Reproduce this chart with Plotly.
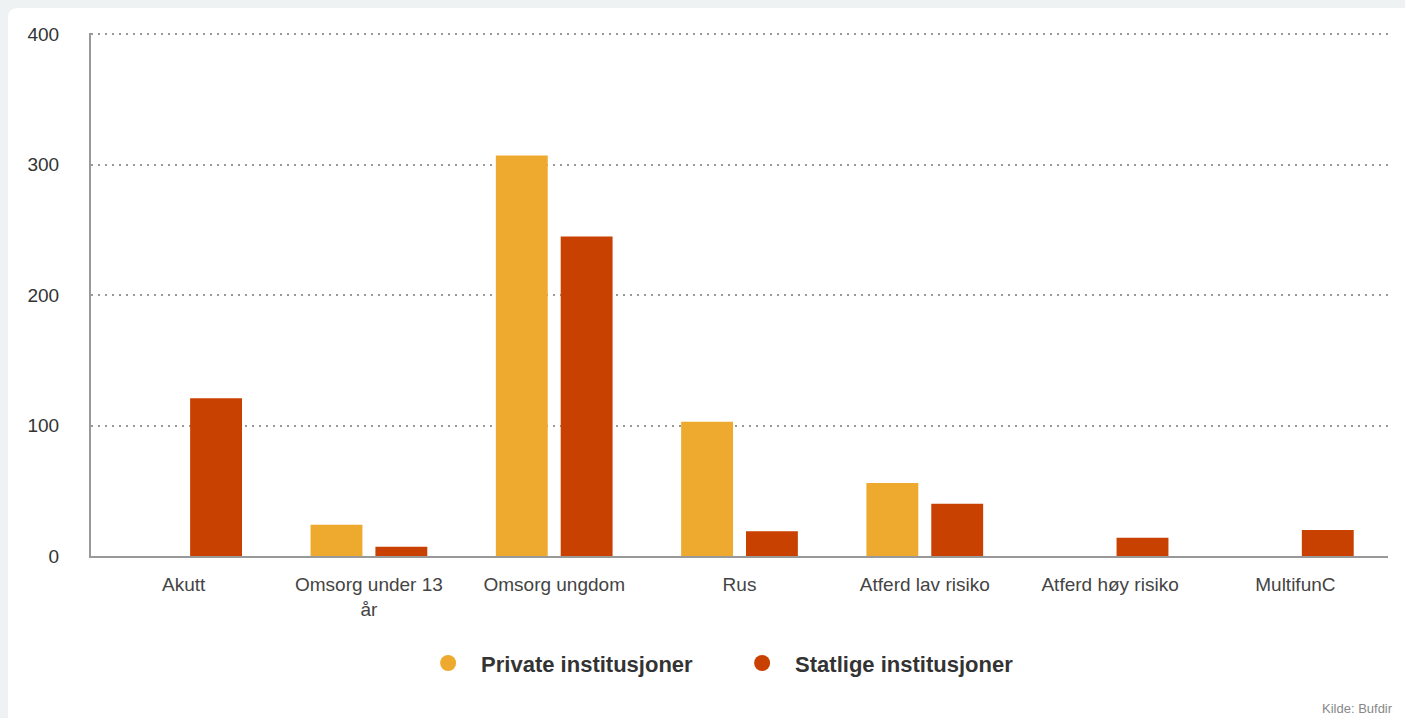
import plotly.graph_objects as go

categories = ["Akutt", "Omsorg under 13<br>år", "Omsorg ungdom", "Rus",
              "Atferd lav risiko", "Atferd høy risiko", "MultifunC"]
private_vals = [0, 24, 307, 103, 56, 0, 0]
statlige_vals = [121, 7, 245, 19, 40, 14, 20]
series_names = ["Private institusjoner", "Statlige institusjoner"]
colors = ["#EEAA2F", "#C94100"]
y_ticks = [0, 100, 200, 300, 400]

FONT = "Arial, 'Liberation Sans', Helvetica, sans-serif"

fig = go.Figure()
for name, vals, col in zip(series_names, [private_vals, statlige_vals], colors):
    fig.add_trace(go.Bar(x=categories, y=vals, name=name, marker_color=col,
                         marker_line_width=0, showlegend=False))
    fig.add_trace(go.Scatter(x=[None], y=[None], mode="markers", name=name,
                             marker=dict(color=col, size=20, symbol="circle")))

W, H = 1405, 718
L, R, T, B = 91, 17, 33, 162
pw, ph = W - L - R, H - T - B

def px(x):
    return (x - L) / pw

def py(y):
    return (H - B - y) / ph

x0, y0 = px(8), py(8)
x1, y1 = px(1430), py(740)
rx, ry = 10 / pw, 10 / ph
path = (f"M {x0},{y1} L {x0},{y0 - ry} Q {x0},{y0} {x0 + rx},{y0} "
        f"L {x1},{y0} L {x1},{y1} Z")

fig.update_layout(
    width=W, height=H,
    margin=dict(l=L, r=R, t=T, b=B),
    paper_bgcolor="#EEF2F2",
    plot_bgcolor="rgba(0,0,0,0)",
    barmode="group", bargap=0.3, bargroupgap=0.2,
    font=dict(family=FONT, size=19, color="#444"),
    shapes=[dict(type="path", path=path, xref="paper", yref="paper",
                 fillcolor="white", line_width=0, layer="below")],
    legend=dict(orientation="h", x=0.492, xanchor="center", y=-0.205,
                yanchor="middle", bgcolor="rgba(0,0,0,0)",
                font=dict(size=22, color="#333", family=FONT, weight="bold"),
                itemwidth=56, entrywidth=243),
    annotations=[dict(text="Kilde: Bufdir", xref="paper", yref="paper",
                      x=px(1395), y=py(718), xanchor="right", yanchor="bottom",
                      showarrow=False, font=dict(size=13, color="#888"))],
)
fig.update_xaxes(showline=True, linecolor="#999", linewidth=2, ticks="",
                 showgrid=False, ticklabelstandoff=10,
                 tickfont=dict(size=19, color="#444"))
fig.update_yaxes(range=[0, 401], tickvals=y_ticks, showline=True, linecolor="#999",
                 linewidth=2, gridcolor="#999", griddash="2px,5px", gridwidth=1.5,
                 zeroline=False, ticks="", ticklabelstandoff=26,
                 tickfont=dict(size=19, color="#333"))

fig.write_html("out.html", config={"displayModeBar": False},
               post_script="document.body.style.margin='0';"
                           "document.body.style.overflow='hidden';")
